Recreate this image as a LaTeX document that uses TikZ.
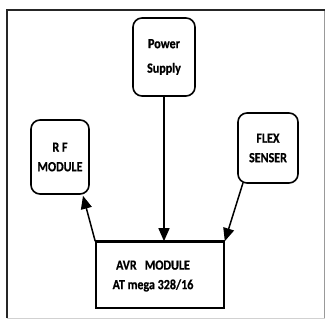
\documentclass[tikz,border=0pt]{standalone}
\usepackage{fontspec}
\setmainfont{Carlito}[FakeStretch=0.86,BoldFeatures={FakeBold=0.6}]
\usetikzlibrary{arrows.meta,calc}
\begin{document}
\begin{tikzpicture}[x=1pt,y=-1pt,
  txt/.style={font=\fontsize{14}{19.5}\selectfont\bfseries},
  blk/.style={draw=black,line width=1.6pt,rounded corners=9pt,inner sep=0pt,align=center,txt},
  sq/.style={draw=black,line width=1.6pt,inner sep=0pt},
  arr/.style={draw=black,line width=1.5pt,-{Triangle[length=13pt,width=11pt]}}]
\useasboundingbox (0,0) rectangle (326,320);
\fill[white] (0,0) rectangle (326,320);
% outer frame
\draw[line width=1.2pt,color=black!40] (324.5,10.5) -- (324.5,318);
\draw[line width=0.8pt,color=black!18] (6.5,318) -- (324.5,318);
\draw[line width=2pt,color=black!85] (6.5,318) -- (6.5,10.5) -- (325,10.5);
% blocks
\node[blk,minimum width=62pt,minimum height=78pt] (power) at (164,57) {Power\\[5pt]Supply};
\node[blk,minimum width=58pt,minimum height=74pt] (rf) at (60,157) {R F\\MODULE};
\node[blk,minimum width=60pt,minimum height=70pt] (flex) at (268,148) {FLEX\\SENSER};
\node[sq,minimum width=128pt,minimum height=66pt,
  label={[xshift=-7pt,yshift=-1pt,align=center,txt]center:AVR~~~MODULE\\AT mega 328/16}] (avr) at (160,275) {};
\draw[line width=3pt] (avr.north west) -- (avr.north east);
% connectors
\draw[arr] (power.south) -- (power.south |- avr.north);
\coordinate (rftip) at ($(rf.south)+(23,1)$);
\draw[arr] (avr.north west) -- (rftip);
\coordinate (flexst) at ($(flex.south)+(-25,-1)$);
\draw[arr] (flexst) -- (avr.north east);
\end{tikzpicture}
\end{document}
